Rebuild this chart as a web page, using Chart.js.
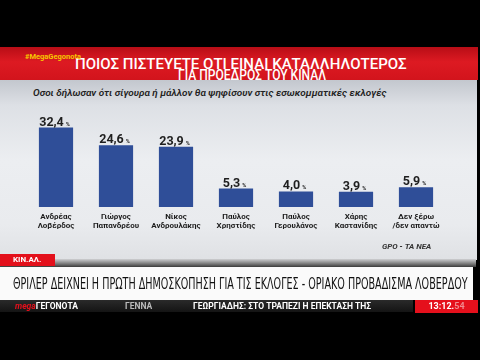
<!DOCTYPE html>
<html lang="el">
  <head>
    <meta charset="UTF-8" />
    <title>ΠΟΙΟΣ ΠΙΣΤΕΥΕΤΕ ΟΤΙ ΕΙΝΑΙ ΚΑΤΑΛΛΗΛΟΤΕΡΟΣ</title>
    <style>
      body { margin: 0; width: 480px; height: 360px; overflow: hidden; background: #000; position: relative; font-family: Roboto, "Noto Sans", sans-serif; }
      .abs { position: absolute; white-space: nowrap; }
      #red { left: 0; top: 47px; width: 478px; height: 33px; background: linear-gradient(180deg, #b80d16 0%, #dd1a22 45%, #d2141c 100%); }
      #panel { left: 0; top: 80px; width: 477px; height: 180px; background: linear-gradient(180deg, #c3c7ce 0%, #dde0e5 14%, #eceef1 45%, #e9ebee 80%, #dfe1e4 100%); }
      .title { color: #fff; font-weight: 500; font-size: 14px; line-height: 14px; transform-origin: left top; }
      #tag { left: 25px; top: 52px; color: #f7c600; font-size: 7.5px; font-weight: 700; }
      #sub { left: 33px; top: 87px; font-size: 9.5px; font-style: italic; font-weight: 600; color: #222; transform-origin: left top; }
      #src { left: 382px; top: 242px; font-size: 8px; font-style: italic; font-weight: 700; color: #333; }
      #shade { left: 0; top: 259px; width: 476px; height: 8px; background: linear-gradient(180deg, #cfd0d2 0%, #6a6a6a 70%, #3a3a3a 100%); }
      #kinal { left: 0; top: 254px; width: 55px; height: 12px; background: #e3101b; color: #fff; font-size: 8px; font-weight: 700; line-height: 12px; padding-left: 13px; box-sizing: border-box; }
      #banner { left: 0; top: 267px; width: 473px; height: 33px; background: #fafafa; }
      #head { left: 13px; top: 277px; font-family: "Liberation Sans Narrow", "DejaVu Sans Condensed", sans-serif; font-size: 15px; line-height: 15px; color: #111; transform-origin: left top; }
      #ticker { left: 0; top: 300px; width: 413px; height: 12px; background: linear-gradient(180deg, #2a2a2a, #141414); }
      .tk { top: 300px; font-size: 8.5px; line-height: 12px; font-weight: 700; color: #fff; }
      #clock { left: 415px; top: 300px; width: 63px; height: 13px; background: #e5101c; color: #fff; font-size: 9px; font-weight: 700; line-height: 13px; text-align: center; }
      #chartBox { left: 0; top: 80px; width: 480px; height: 178px; }
    </style>
  </head>
  <body>
    <div id="red" class="abs"></div>
    <div id="panel" class="abs"></div>
    <div id="t1" class="abs title" style="left: 75px; top: 57px">ΠΟΙΟΣ ΠΙΣΤΕΥΕΤΕ ΟΤΙ ΕΙΝΑΙ ΚΑΤΑΛΛΗΛΟΤΕΡΟΣ</div>
    <div id="t2" class="abs title" style="left: 178px; top: 68px">ΓΙΑ ΠΡΟΕΔΡΟΣ ΤΟΥ ΚΙΝΑΛ</div>
    <div id="tag" class="abs">#MegaGegonota</div>
    <div id="sub" class="abs">Οσοι δήλωσαν ότι σίγουρα ή μάλλον θα ψηφίσουν στις εσωκομματικές εκλογές</div>
    <div id="chartBox" class="abs"><canvas id="myChart" width="480" height="178"></canvas></div>
    <div id="src" class="abs">GPO - ΤΑ ΝΕΑ</div>
    <div id="shade" class="abs"></div>
    <div id="kinal" class="abs">ΚΙΝ.ΑΛ.</div>
    <div id="banner" class="abs"></div>
    <div id="head" class="abs">ΘΡΙΛΕΡ ΔΕΙΧΝΕΙ Η ΠΡΩΤΗ ΔΗΜΟΣΚΟΠΗΣΗ ΓΙΑ ΤΙΣ ΕΚΛΟΓΕΣ - ΟΡΙΑΚΟ ΠΡΟΒΑΔΙΣΜΑ ΛΟΒΕΡΔΟΥ</div>
    <div id="ticker" class="abs"></div>
    <div class="abs tk" style="left: 15px"><span style="color: #e5101c; font-style: italic">mega</span>ΓΕΓΟΝΟΤΑ</div>
    <div class="abs tk" style="left: 125px; color: #bbb">ΓΕΝΝΑ</div>
    <div class="abs tk" style="left: 193px">ΓΕΩΡΓΙΑΔΗΣ: ΣΤΟ ΤΡΑΠΕΖΙ Η ΕΠΕΚΤΑΣΗ ΤΗΣ</div>
    <div id="clock" class="abs">13:12.<span style="color: #f08a8f">54</span></div>

    <script src="https://cdn.jsdelivr.net/npm/chart.js"></script>
    <script>
      const candidates = [
        ["Ανδρέας", "Λοβέρδος"],
        ["Γιώργος", "Παπανδρέου"],
        ["Νίκος", "Ανδρουλάκης"],
        ["Παύλος", "Χρηστίδης"],
        ["Παύλος", "Γερουλάνος"],
        ["Χάρης", "Καστανίδης"],
        ["Δεν ξέρω", "/δεν απαντώ"],
      ];
      const shares = [32.4, 24.6, 23.9, 5.3, 4.0, 3.9, 5.9];
      const shareLabels = ["32,4", "24,6", "23,9", "5,3", "4,0", "3,9", "5,9"];

      // squeeze text blocks to the widths seen in the picture
      function fit(id, w) {
        const el = document.getElementById(id);
        el.style.transform = "scaleX(" + w / el.offsetWidth + ")";
      }
      fit("t1", 332);
      fit("t2", 148);
      fit("sub", 354);
      fit("head", 455);

      const valueLabels = {
        id: "valueLabels",
        afterDatasetsDraw(chart) {
          const ctx = chart.ctx;
          chart.getDatasetMeta(0).data.forEach((bar, i) => {
            ctx.save();
            ctx.font = "bold 12.5px Roboto";
            const w = ctx.measureText(shareLabels[i]).width;
            const x0 = bar.x - (w + 7) / 2 - 1;
            ctx.fillStyle = "#1e1e1e";
            ctx.textBaseline = "alphabetic";
            ctx.fillText(shareLabels[i], x0, bar.y - 2);
            ctx.font = "bold 5.5px Roboto";
            ctx.fillText("%", x0 + w + 2, bar.y - 2);
            ctx.restore();
          });
        },
      };

      new Chart("myChart", {
        type: "bar",
        data: {
          labels: candidates,
          datasets: [
            {
              data: shares,
              base: -2.9,
              backgroundColor: "#2f4e98",
              barPercentage: 0.57,
              categoryPercentage: 1,
            },
          ],
        },
        options: {
          responsive: false,
          animation: false,
          layout: { padding: { left: 26, right: 34, top: 19, bottom: 0 } },
          plugins: { legend: { display: false }, tooltip: { enabled: false } },
          scales: {
            x: {
              grid: { display: false, drawTicks: false },
              border: { display: false },
              ticks: {
                color: "#1c1c1c",
                font: { family: "Roboto", size: 8, weight: "bold", lineHeight: 1.15 },
                padding: 5,
                maxRotation: 0,
                autoSkip: false,
              },
              afterFit(scale) {
                scale.height = 51;
              },
            },
            y: { display: false, min: -2.9, max: 45.1 },
          },
        },
        plugins: [valueLabels],
      });
    </script>
  </body>
</html>
